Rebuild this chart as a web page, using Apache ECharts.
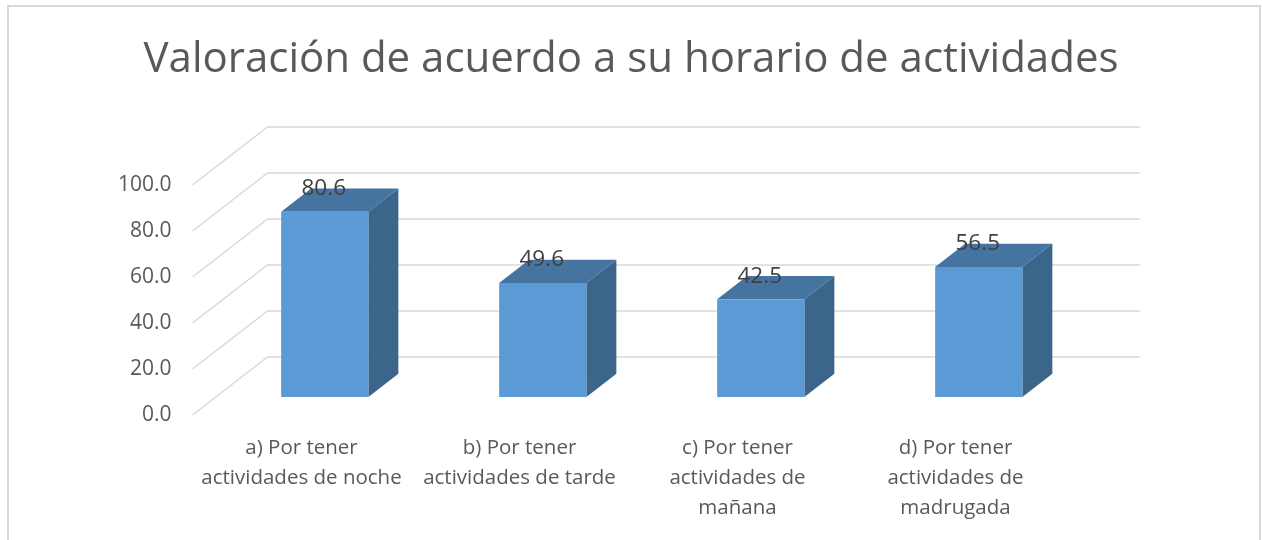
<!DOCTYPE html>
<html>
<head>
<meta charset="utf-8">
<style>
  html, body { margin: 0; padding: 0; background: #fff; }
  #chart { width: 1262px; height: 540px; }
</style>
<script src="https://cdn.jsdelivr.net/npm/echarts@6/dist/echarts.min.js"></script>
</head>
<body>
<div id="chart"></div>
<script>
// datos del gráfico
const categories = [
    'a) Por tener\nactividades de noche',
    'b) Por tener\nactividades de tarde',
    'c) Por tener\nactividades de\nmañana',
    'd) Por tener\nactividades de\nmadrugada'
];
const values = [80.6, 49.6, 42.5, 56.5];
const yTicks = [0, 20, 40, 60, 80, 100];

// profundidad 3D (pixeles)
const DX = 75, DY = 58;
const barFront = 0.31, barDepth = 0.4;

let myChart = echarts.init(document.getElementById('chart'));

function gridItem(params, api) {
    const v = api.value(0);
    const p = api.coord([0, v]);
    const band = api.size([1, 0])[0];
    const x0 = p[0] - band / 2;
    const x1 = x0 + band * categories.length;
    const y = p[1];
    return {
        type: 'polyline',
        shape: { points: [[x0, y], [x0 + DX, y - DY], [x1 + DX, y - DY]] },
        style: { stroke: '#d9d9d9', lineWidth: 1.5, fill: null },
        silent: true
    };
}

function barItem(params, api) {
    const idx = api.value(0);
    const v = api.value(1);
    const top = api.coord([idx, v]);
    const base = api.coord([idx, 0]);
    const band = api.size([1, 0])[0];
    const w = band * 0.4;
    const ox = DX * barFront, oy = DY * barFront;
    const dx = DX * barDepth, dy = DY * barDepth;
    const xl = top[0] - w / 2 + ox, xr = xl + w;
    const yt = top[1] - oy, yb = base[1] - oy;
    return {
        type: 'group',
        children: [
            {
                type: 'polygon',
                shape: { points: [[xr, yt], [xr + dx, yt - dy], [xr + dx, yb - dy], [xr, yb]] },
                style: { fill: '#3b6589' }
            },
            {
                type: 'polygon',
                shape: { points: [[xl, yt], [xl + dx, yt - dy], [xr + dx, yt - dy], [xr, yt]] },
                style: { fill: '#44749f' }
            },
            {
                type: 'rect',
                shape: { x: xl, y: yt, width: w, height: yb - yt },
                style: { fill: '#5b9bd5' }
            },
            {
                type: 'text',
                x: top[0] + ox - 1,
                y: yt - 23,
                style: {
                    text: v.toFixed(1),
                    fill: '#404040',
                    font: '22.5px "Open Sans"',
                    align: 'center',
                    verticalAlign: 'middle'
                }
            }
        ]
    };
}

let option = {
    backgroundColor: '#fff',
    title: {
        text: 'Valoración de acuerdo a su horario de actividades',
        left: 'center',
        top: 34,
        textStyle: {
            color: '#595959',
            fontSize: 42,
            fontWeight: 'normal',
            fontFamily: 'Open Sans'
        }
    },
    graphic: [{
        type: 'rect',
        shape: { x: 8, y: 6, width: 1252, height: 560 },
        style: { fill: null, stroke: '#d9d9d9', lineWidth: 2 },
        silent: true
    }],
    grid: {
        left: 192.5,
        right: 197.5,
        top: 185,
        bottom: 125
    },
    xAxis: {
        type: 'category',
        data: categories,
        axisLine: { show: false },
        axisTick: { show: false },
        axisLabel: {
            interval: 0,
            margin: 18,
            color: '#595959',
            fontSize: 20.5,
            lineHeight: 30,
            fontFamily: 'Open Sans'
        }
    },
    yAxis: {
        type: 'value',
        min: 0,
        max: 100,
        interval: 20,
        axisLine: { show: false },
        axisTick: { show: false },
        splitLine: { show: false },
        axisLabel: {
            margin: 21,
            color: '#595959',
            fontSize: 21,
            fontFamily: 'Open Sans',
            formatter: v => v.toFixed(1)
        }
    },
    series: [
        {
            type: 'custom',
            renderItem: gridItem,
            data: yTicks.map(v => [v]),
            encode: { y: 0 },
            z: 1
        },
        {
            type: 'custom',
            renderItem: barItem,
            data: values.map((v, i) => [i, v]),
            encode: { x: 0, y: 1 },
            z: 2
        }
    ]
};
option && myChart.setOption(option);
</script>
</body>
</html>
